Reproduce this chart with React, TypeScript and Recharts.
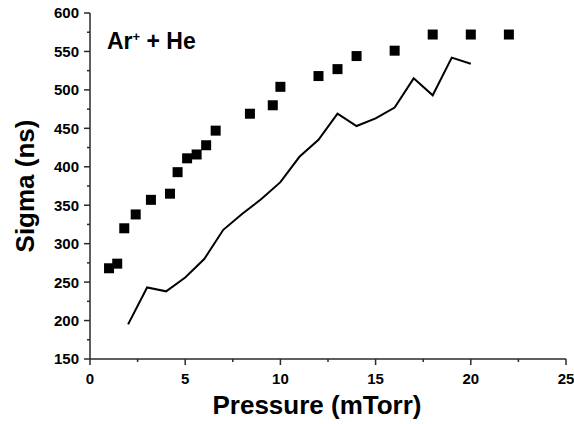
import React from 'react';
import { ComposedChart, Scatter, Line, XAxis, YAxis, Label } from 'recharts';

const squareX = [1, 1.43, 1.8, 2.4, 3.2, 4.2, 4.6, 5.1, 5.6, 6.1, 6.6, 8.4, 9.6, 10, 12, 13, 14, 16, 18, 20, 22];
const squareY = [268, 274, 320, 338, 357, 365, 393, 411, 416, 428, 447, 469, 480, 504, 518, 527, 544, 551, 572, 572, 572];
const lineX = [2, 3, 4, 5, 6, 7, 8, 9, 10, 11, 12, 13, 14, 15, 16, 17, 18, 19, 20];
const lineY = [195, 243, 238, 256, 280, 318, 339, 358, 380, 413, 435, 469, 453, 463, 477, 515, 493, 542, 534];
const xTicks = [0, 2.5, 5, 7.5, 10, 12.5, 15, 17.5, 20, 22.5, 25];
const yTicks = [150, 175, 200, 225, 250, 275, 300, 325, 350, 375, 400, 425, 450, 475, 500, 525, 550, 575, 600];

const squareData = squareX.map((x, i) => ({ x, y: squareY[i] }));
const lineData = lineX.map((x, i) => ({ x, y: lineY[i] }));

const AXIS = '#2a2a2a';
const FONT = '"Liberation Sans", Arial, Helvetica, sans-serif';

const YTick = (props: any) => {
  const { x, y, payload } = props;
  const major = payload.value % 50 === 0;
  return (
    <g>
      <line x1={x} x2={x - (major ? 6 : 3)} y1={y} y2={y} stroke={AXIS} strokeWidth={1.5} />
      {major && (
        <text x={x - 11} y={y} dy="0.36em" textAnchor="end" fontFamily={FONT} fontWeight="bold" fontSize={15} fill="#000">
          {payload.value}
        </text>
      )}
    </g>
  );
};

const XTick = (props: any) => {
  const { x, y, payload } = props;
  const major = payload.value % 5 === 0;
  return (
    <g>
      <line x1={x} x2={x} y1={y} y2={y + (major ? 6 : 3)} stroke={AXIS} strokeWidth={1.5} />
      {major && (
        <text x={x} y={y + 25} textAnchor="middle" fontFamily={FONT} fontWeight="bold" fontSize={15} fill="#000">
          {payload.value}
        </text>
      )}
    </g>
  );
};

const Square = (props: any) => {
  const { cx, cy } = props;
  return <rect x={cx - 5} y={cy - 5} width={10} height={10} fill="#000" />;
};

export default function App() {
  return (
    <div style={{ position: 'absolute', left: 0, top: 0, width: 574, height: 424, background: '#fff' }}>
      <ComposedChart width={574} height={424} margin={{ top: 13, right: 8, bottom: 0, left: 0 }}>
        <XAxis
          xAxisId="top"
          orientation="top"
          type="number"
          dataKey="x"
          domain={[0, 25]}
          height={0}
          tick={false}
          tickLine={false}
          axisLine={{ stroke: AXIS, strokeWidth: 1.5 }}
        />
        <YAxis
          yAxisId="right"
          orientation="right"
          type="number"
          domain={[150, 600]}
          width={0}
          tick={false}
          tickLine={false}
          axisLine={{ stroke: AXIS, strokeWidth: 1.5 }}
        />
        <XAxis
          type="number"
          dataKey="x"
          domain={[0, 25]}
          ticks={xTicks}
          interval={0}
          height={65}
          tickSize={0}
          tickMargin={0}
          tickLine={false}
          tick={<XTick />}
          axisLine={{ stroke: AXIS, strokeWidth: 1.5 }}
        >
          <Label
            content={(p: any) => {
              const vb = p.viewBox;
              return (
                <text x={vb.x + vb.width / 2 - 11} y={vb.y + 55} textAnchor="middle" fontFamily={FONT} fontWeight="bold" fontSize={26} fill="#000">
                  Pressure (mTorr)
                </text>
              );
            }}
          />
        </XAxis>
        <YAxis
          type="number"
          dataKey="y"
          domain={[150, 600]}
          ticks={yTicks}
          interval={0}
          width={90}
          tickSize={0}
          tickMargin={0}
          tickLine={false}
          tick={<YTick />}
          axisLine={{ stroke: AXIS, strokeWidth: 1.5 }}
        >
          <Label
            content={(p: any) => {
              const vb = p.viewBox;
              const cx = 34;
              const cy = vb.y + vb.height / 2;
              return (
                <text x={cx} y={cy} transform={`rotate(-90, ${cx}, ${cy})`} textAnchor="middle" fontFamily={FONT} fontWeight="bold" fontSize={26} fill="#000">
                  Sigma (ns)
                </text>
              );
            }}
          />
        </YAxis>
        <Line
          data={lineData}
          dataKey="y"
          type="linear"
          stroke="#000"
          strokeWidth={2}
          dot={false}
          activeDot={false}
          isAnimationActive={false}
        />
        <Scatter data={squareData} dataKey="y" fill="#000" shape={<Square />} isAnimationActive={false} />
      </ComposedChart>
      <div
        style={{
          position: 'absolute',
          left: 107,
          top: 27,
          fontFamily: FONT,
          fontWeight: 'bold',
          fontSize: 23,
          color: '#000',
          whiteSpace: 'nowrap',
          lineHeight: '28px',
        }}
      >
        Ar<sup style={{ fontSize: 13, verticalAlign: 'top', lineHeight: '20px' }}>+</sup> + He
      </div>
    </div>
  );
}
